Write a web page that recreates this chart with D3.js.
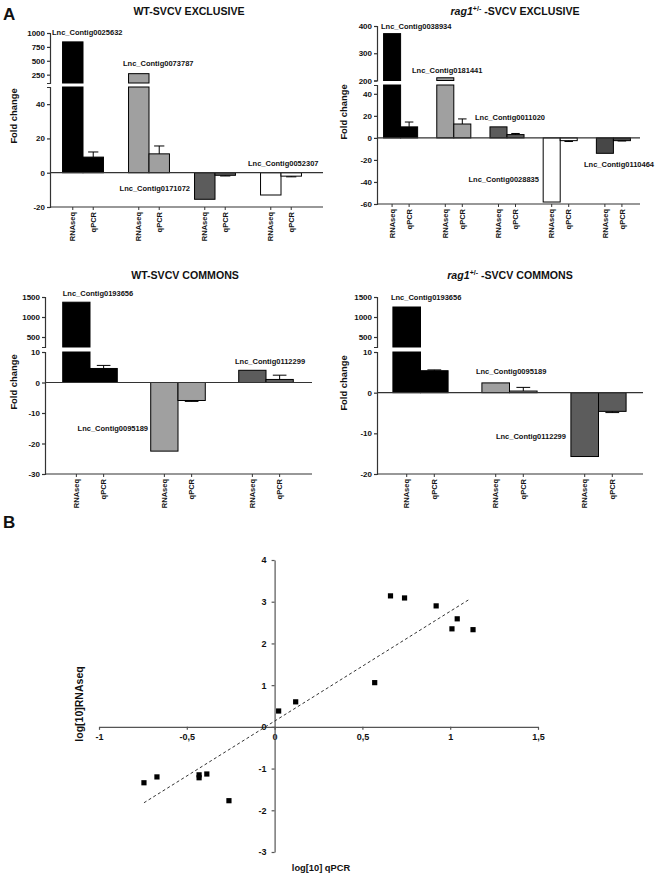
<!DOCTYPE html>
<html><head><meta charset="utf-8">
<script src="https://cdn.jsdelivr.net/npm/d3@7"></script>
<style>
body{margin:0;background:#fff}
svg{display:block}
text{font-family:"Liberation Sans",Arial,sans-serif;font-weight:bold;fill:#111}
</style>
</head><body>
<svg id="c" width="659" height="874"></svg>
<script>
// ---------------- DATA ----------------
const seriesNames = ["RNAseq", "qPCR"];

const wtExclGenes = ["Lnc_Contig0025632", "Lnc_Contig0073787", "Lnc_Contig0171072", "Lnc_Contig0052307"];
const wtExclRNAseq = [840, 268, -15.5, -13];
const wtExclQPCR = [9.1, 11, -1.5, -2];
const wtExclQPCRErr = [3, 4.6, 0.4, 0.4];

const ragExclGenes = ["Lnc_Contig0038934", "Lnc_Contig0181441", "Lnc_Contig0011020", "Lnc_Contig0028835", "Lnc_Contig0110464"];
const ragExclRNAseq = [372, 210, 10, -58.2, -14];
const ragExclQPCR = [10, 12.6, 3, -2.5, -2.5];
const ragExclQPCRErr = [4.4, 4.6, 1, 0.8, 0.3];

const wtCommGenes = ["Lnc_Contig0193656", "Lnc_Contig0095189", "Lnc_Contig0112299"];
const wtCommRNAseq = [1370, -22.5, 4];
const wtCommQPCR = [4.6, -5.9, 1];
const wtCommQPCRErr = [1, 0.3, 1.4];

const ragCommGenes = ["Lnc_Contig0193656", "Lnc_Contig0095189", "Lnc_Contig0112299"];
const ragCommRNAseq = [1250, 2.4, -15.7];
const ragCommQPCR = [5.4, 0.4, -4.6];
const ragCommQPCRErr = [0.2, 0.9, 0.3];

// Scatter (panel B)
const scatterQPCR   = [0.023, 0.12, 0.66, 0.74, 0.92, 1.04, 1.01, 1.13, 0.57, -0.744, -0.67, -0.43, -0.43, -0.386, -0.26];
const scatterRNAseq = [0.38, 0.60, 3.14, 3.09, 2.90, 2.59, 2.35, 2.33, 1.06, -1.34, -1.20, -1.15, -1.22, -1.13, -1.77];
const trendX = [-0.744, 1.114];
const trendY = [-1.82, 3.07];
const scatterXTicks = [-1, -0.5, 0, 0.5, 1, 1.5];
const scatterYTicks = [-3, -2, -1, 0, 1, 2, 3, 4];

// ---------------- STYLE / LAYOUT ----------------
const BLACK = "#000", LIGHT = "#a0a0a0", DARK = "#5c5c5c", WHITE = "#fff", DARKER = "#474747";
const AXIS = "#333";

const svg = d3.select("#c");

function barPanel(cfg) {
  const g = svg.append("g");
  const x0 = d3.scaleBand().domain(cfg.genes).range(cfg.bandRange)
    .paddingInner(cfg.pi).paddingOuter(cfg.po);
  const x1 = d3.scaleBand().domain(seriesNames).range([0, x0.bandwidth()]);
  const yL = d3.scaleLinear().domain(cfg.lowerDomain).range(cfg.lowerRange);
  const yU = d3.scaleLinear().domain(cfg.upperDomain).range(cfg.upperRange);
  const lowerMax = cfg.lowerDomain[1];

  const rows = [];
  cfg.genes.forEach((gene, i) => {
    rows.push({gene, s: "RNAseq", v: cfg.rna[i], err: 0, color: cfg.colors[i]});
    rows.push({gene, s: "qPCR", v: cfg.qpcr[i], err: cfg.err[i], color: cfg.colors[i]});
  });

  rows.forEach(d => {
    const bx = x0(d.gene) + x1(d.s), bw = x1.bandwidth();
    if (d.v > lowerMax) {
      g.append("rect").attr("x", bx).attr("width", bw)
        .attr("y", yL(lowerMax)).attr("height", yL(0) - yL(lowerMax))
        .attr("fill", d.color).attr("stroke", "#000").attr("stroke-width", 1);
      g.append("rect").attr("x", bx).attr("width", bw)
        .attr("y", yU(d.v)).attr("height", yU(cfg.upperDomain[0]) - yU(d.v))
        .attr("fill", d.color).attr("stroke", "#000").attr("stroke-width", 1);
    } else {
      const y1 = yL(d.v), y0 = yL(0);
      g.append("rect").attr("x", bx).attr("width", bw)
        .attr("y", Math.min(y1, y0)).attr("height", Math.abs(y1 - y0))
        .attr("fill", d.color).attr("stroke", "#000").attr("stroke-width", 1);
    }
    if (d.err > 0) {
      const sgn = d.v >= 0 ? 1 : -1;
      const cx = bx + bw / 2, ya = yL(d.v), yb = yL(d.v + sgn * d.err);
      g.append("line").attr("x1", cx).attr("x2", cx).attr("y1", ya).attr("y2", yb)
        .attr("stroke", "#000").attr("stroke-width", 1);
      g.append("line").attr("x1", cx - bw / 4).attr("x2", cx + bw / 4).attr("y1", yb).attr("y2", yb)
        .attr("stroke", "#000").attr("stroke-width", 1);
    }
  });

  // zero line and bottom axis
  const yb = yL(cfg.lowerDomain[0]);
  g.append("line").attr("x1", cfg.axisX).attr("x2", cfg.xEnd).attr("y1", yL(0)).attr("y2", yL(0))
    .attr("stroke", AXIS).attr("stroke-width", 1.2);
  g.append("line").attr("x1", cfg.axisX).attr("x2", cfg.xEnd).attr("y1", yb).attr("y2", yb)
    .attr("stroke", AXIS).attr("stroke-width", 1.2);

  // x tick marks + labels
  rows.forEach(d => {
    const cx = x0(d.gene) + x1(d.s) + x1.bandwidth() / 2;
    g.append("line").attr("x1", cx).attr("x2", cx).attr("y1", yb).attr("y2", yb + 3)
      .attr("stroke", AXIS);
    g.append("text").attr("transform", `translate(${cx},${yb + 5}) rotate(-90)`)
      .attr("text-anchor", "end").attr("dy", "0.35em").attr("font-size", 7.5)
      .text(d.s);
  });

  // y axes (two segments)
  const axL = g.append("g").attr("transform", `translate(${cfg.axisX},0)`)
    .call(d3.axisLeft(yL).tickValues(cfg.lowerTicks).tickFormat(d => String(d))
      .tickSize(3).tickSizeOuter(3).tickPadding(2));
  const axU = g.append("g").attr("transform", `translate(${cfg.axisX},0)`)
    .call(d3.axisLeft(yU).tickValues(cfg.upperTicks).tickFormat(d => String(d))
      .tickSize(3).tickSizeOuter(3).tickPadding(2));
  [axL, axU].forEach(a => {
    a.selectAll("path,line").attr("stroke", AXIS).attr("stroke-width", 1.2);
    a.selectAll("text").attr("font-size", 8).attr("fill", "#111")
      .attr("font-family", '"Liberation Sans", Arial, sans-serif').attr("font-weight", "bold");
  });

  // Fold change label
  g.append("text").attr("transform", `translate(${cfg.foldPos[0]},${cfg.foldPos[1]}) rotate(-90)`)
    .attr("text-anchor", "middle").attr("font-size", 9.4).text("Fold change");

  // title
  const t = g.append("text").attr("x", cfg.titlePos[0]).attr("y", cfg.titlePos[1])
    .attr("text-anchor", "middle").attr("font-size", 10.6);
  if (cfg.italicPrefix) {
    t.append("tspan").attr("font-style", "italic").text(cfg.italicPrefix);
    t.append("tspan").attr("dy", -4).attr("font-size", 7).text("+/-");
    t.append("tspan").attr("dy", 4).text(" " + cfg.title);
  } else {
    t.text(cfg.title);
  }

  // gene labels
  cfg.genes.forEach((gene, i) => {
    const L = cfg.labels[i];
    g.append("text").attr("x", x0(gene) + L[0]).attr("y", L[1])
      .attr("text-anchor", L[2]).attr("font-size", 7.5).text(gene);
  });
}

// Panel A1
barPanel({
  genes: wtExclGenes, rna: wtExclRNAseq, qpcr: wtExclQPCR, err: wtExclQPCRErr,
  colors: [BLACK, LIGHT, DARK, WHITE],
  axisX: 50, xEnd: 323, bandRange: [50, 314], pi: 0.38, po: 0.19,
  lowerDomain: [-20, 50], lowerRange: [207, 87], lowerTicks: [-20, 0, 20, 40],
  upperDomain: [100, 1000], upperRange: [83, 33], upperTicks: [250, 500, 750, 1000],
  foldPos: [17, 116], titlePos: [189, 15], title: "WT-SVCV EXCLUSIVE",
  labels: [[-10.5, 35, "start"], [-5.5, 66, "start"], [-4.5, 191, "end"], [-12.5, 166, "start"]]
});

// Panel A2
barPanel({
  genes: ragExclGenes, rna: ragExclRNAseq, qpcr: ragExclQPCR, err: ragExclQPCRErr,
  colors: [BLACK, LIGHT, DARK, WHITE, DARKER],
  axisX: 377, xEnd: 640, bandRange: [374, 640], pi: 0.36, po: 0.18,
  lowerDomain: [-60, 48], lowerRange: [204, 85], lowerTicks: [-60, -40, -20, 0, 20, 40],
  upperDomain: [200, 400], upperRange: [80.5, 26], upperTicks: [200, 300, 400],
  foldPos: [347, 112], titlePos: [515, 15], italicPrefix: "rag1", title: "-SVCV EXCLUSIVE",
  labels: [[-2.6, 29, "start"], [-24.8, 73, "start"], [-15, 120, "start"], [-4.2, 182, "end"], [-12.4, 167, "start"]]
});

// Panel A3
barPanel({
  genes: wtCommGenes, rna: wtCommRNAseq, qpcr: wtCommQPCR, err: wtCommQPCRErr,
  colors: [BLACK, LIGHT, DARK],
  axisX: 45, xEnd: 312, bandRange: [46, 310], pi: 0.38, po: 0.19,
  lowerDomain: [-30, 10], lowerRange: [474, 352], lowerTicks: [-30, -20, -10, 0, 10],
  upperDomain: [250, 1500], upperRange: [347, 297], upperTicks: [500, 1000, 1500],
  foldPos: [17, 382], titlePos: [185, 279], title: "WT-SVCV COMMONS",
  labels: [[0, 296, "start"], [-2.7, 431, "end"], [-3.7, 364, "start"]]
});

// Panel A4
barPanel({
  genes: ragCommGenes, rna: ragCommRNAseq, qpcr: ragCommQPCR, err: ragCommQPCRErr,
  colors: [BLACK, LIGHT, DARK],
  axisX: 377, xEnd: 643, bandRange: [376, 643], pi: 0.38, po: 0.19,
  lowerDomain: [-20, 10], lowerRange: [474, 352], lowerTicks: [-20, -10, 0, 10],
  upperDomain: [250, 1500], upperRange: [347, 297], upperTicks: [500, 1000, 1500],
  foldPos: [347, 383], titlePos: [510, 279], italicPrefix: "rag1", title: "-SVCV COMMONS",
  labels: [[-2, 300, "start"], [-6, 374, "start"], [-5, 439, "end"]]
});

// Panel letters
svg.append("text").attr("x", 3).attr("y", 20).attr("font-size", 17).text("A");
svg.append("text").attr("x", 3).attr("y", 528).attr("font-size", 17).text("B");

// ---------------- SCATTER ----------------
const sx = d3.scaleLinear().domain([-1, 1.5]).range([99, 538]);
const sy = d3.scaleLinear().domain([-3, 4]).range([852, 560]);
const fmt = d => String(d).replace(".", ",");
const sg = svg.append("g");

const ax = sg.append("g").attr("transform", `translate(0,${sy(0)})`)
  .call(d3.axisBottom(sx).tickValues(scatterXTicks).tickFormat(fmt).tickSize(3).tickSizeOuter(0).tickPadding(4));
const ay = sg.append("g").attr("transform", `translate(${sx(0)},0)`)
  .call(d3.axisLeft(sy).tickValues(scatterYTicks).tickFormat(fmt).tickSize(3).tickSizeOuter(0).tickPadding(5));
[ax, ay].forEach(a => {
  a.selectAll("path,line").attr("stroke", "#555").attr("stroke-width", 1.2);
  a.selectAll("text").attr("font-size", 9).attr("fill", "#111")
    .attr("font-family", '"Liberation Sans", Arial, sans-serif').attr("font-weight", "bold");
});

sg.append("line")
  .attr("x1", sx(trendX[0])).attr("y1", sy(trendY[0]))
  .attr("x2", sx(trendX[1])).attr("y2", sy(trendY[1]))
  .attr("stroke", "#333").attr("stroke-width", 1).attr("stroke-dasharray", "3,2.5");

sg.selectAll("rect.pt").data(scatterQPCR).enter().append("rect").attr("class", "pt")
  .attr("x", (d, i) => sx(d) - 2.6).attr("y", (d, i) => sy(scatterRNAseq[i]) - 2.6)
  .attr("width", 5.2).attr("height", 5.2).attr("fill", "#000");

sg.append("text").attr("x", 321).attr("y", 871).attr("text-anchor", "middle")
  .attr("font-size", 9.3).text("log[10] qPCR");
sg.append("text").attr("transform", "translate(83,704) rotate(-90)")
  .attr("text-anchor", "middle").attr("font-size", 10.5).text("log[10]RNAseq");
</script>
</body></html>
